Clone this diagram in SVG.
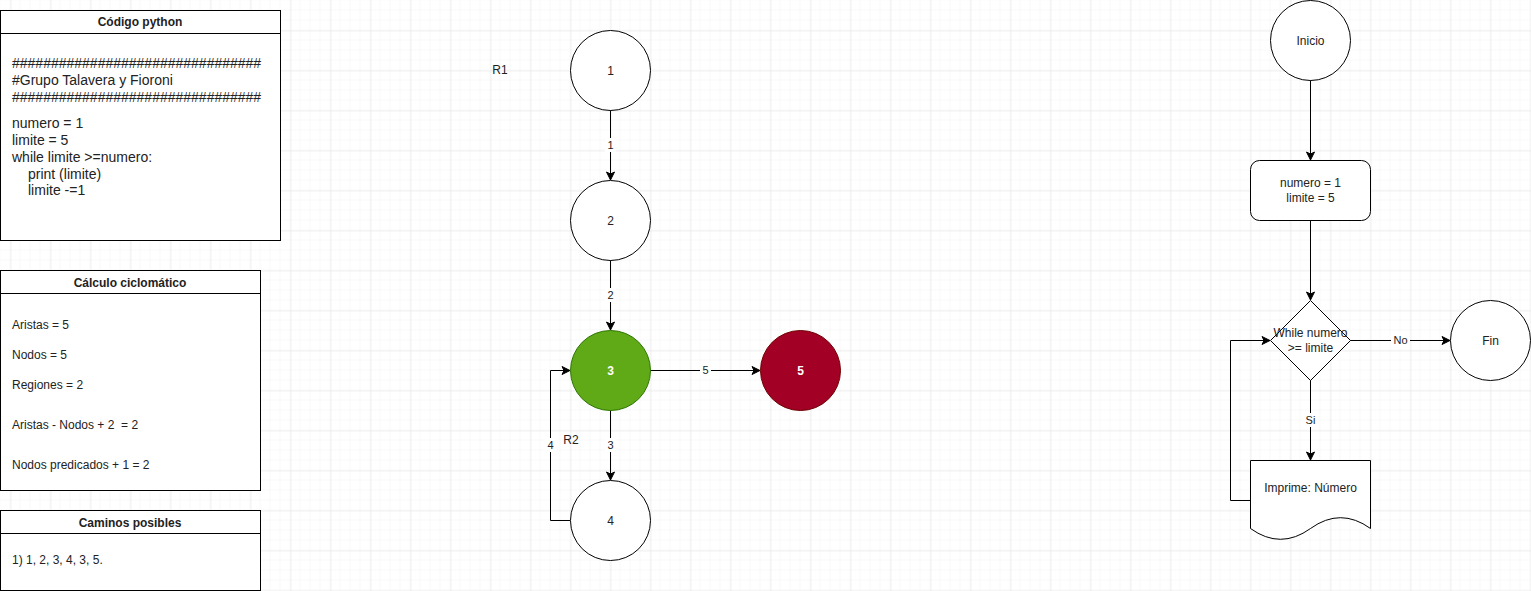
<svg xmlns="http://www.w3.org/2000/svg" width="1531" height="591" viewBox="0 0 1531 591">
<defs>
<pattern id="minor" x="0" y="0" width="10" height="10" patternUnits="userSpaceOnUse">
<path d="M10,0 V10 M0,10 H10" fill="none" stroke="#f3f3f3" stroke-width="1"/>
</pattern>
<pattern id="major" x="10.5" y="30.5" width="40" height="40" patternUnits="userSpaceOnUse">
<path d="M0,0 V40 M0,0 H40" fill="none" stroke="#e2e2e2" stroke-width="1"/>
</pattern>
<marker id="arr" viewBox="0 0 10 10" refX="9" refY="5" markerWidth="10" markerHeight="10" markerUnits="userSpaceOnUse" orient="auto">
<path d="M1,1 L9,5 L1,9 L3,5 z" fill="#000" stroke="#000" stroke-width="1"/>
</marker>
<style>
text{font-family:"Liberation Sans",Arial,sans-serif;fill:#222}
.t11{font-size:11px}
.t12{font-size:12px}
.t14{font-size:14px}
.hdr{font-size:12px;font-weight:bold;text-anchor:middle}
.c{text-anchor:middle}
.box{fill:#fff;stroke:#000;stroke-width:1}
.node{fill:#fff;stroke:#000;stroke-width:1}
.edge{fill:none;stroke:#000;stroke-width:1;marker-end:url(#arr)}
.line{fill:none;stroke:#000;stroke-width:1}
.lbl{fill:#fff;stroke:none}
.wt{fill:#fff;font-weight:bold}
.pre{white-space:pre}
</style>
</defs>
<rect width="1531" height="591" fill="#fff"/>
<rect width="1531" height="591" fill="url(#minor)" transform="translate(0.5,0.5)"/>
<rect width="1531" height="591" fill="url(#major)"/>

<g id="codigo">
<rect class="box" x="0.5" y="10.5" width="280" height="230"/>
<line class="line" x1="0.5" y1="33.5" x2="280.5" y2="33.5"/>
<text class="hdr" x="140" y="26">Código python</text>
<text class="t14" x="12" y="68">################################</text>
<text class="t14" x="12" y="85">#Grupo Talavera y Fioroni</text>
<text class="t14" x="12" y="102">################################</text>
<text class="t14" x="12" y="128">numero = 1</text>
<text class="t14" x="12" y="145">limite = 5</text>
<text class="t14" x="12" y="162">while limite &gt;=numero:</text>
<text class="t14" x="28" y="179">print (limite)</text>
<text class="t14" x="28" y="195">limite -=1</text>
</g>

<g id="calculo">
<rect class="box" x="0.5" y="270.5" width="260" height="220"/>
<line class="line" x1="0.5" y1="293.5" x2="260.5" y2="293.5"/>
<text class="hdr" x="130" y="287">Cálculo ciclomático</text>
<text class="t12" x="12" y="329">Aristas = 5</text>
<text class="t12" x="12" y="359">Nodos = 5</text>
<text class="t12" x="12" y="389">Regiones = 2</text>
<text class="t12 pre" x="12" y="429" xml:space="preserve">Aristas - Nodos + 2  = 2</text>
<text class="t12" x="12" y="469">Nodos predicados + 1 = 2</text>
</g>

<g id="caminos">
<rect class="box" x="0.5" y="510.5" width="260" height="80"/>
<line class="line" x1="0.5" y1="533.5" x2="260.5" y2="533.5"/>
<text class="hdr" x="130" y="527">Caminos posibles</text>
<text class="t12" x="12" y="564">1) 1, 2, 3, 4, 3, 5.</text>
</g>

<g id="connectors">
<line class="edge" x1="610.5" y1="110" x2="610.5" y2="180"/>
<line class="edge" x1="610.5" y1="260" x2="610.5" y2="330"/>
<line class="edge" x1="610.5" y1="410" x2="610.5" y2="480"/>
<line class="edge" x1="650" y1="370.5" x2="760" y2="370.5"/>
<polyline class="edge" points="570,520.5 550.5,520.5 550.5,370.5 570,370.5"/>
<line class="edge" x1="1310.5" y1="80" x2="1310.5" y2="160"/>
<line class="edge" x1="1310.5" y1="220" x2="1310.5" y2="300"/>
<line class="edge" x1="1350" y1="340.5" x2="1450" y2="340.5"/>
<line class="edge" x1="1310.5" y1="380" x2="1310.5" y2="460"/>
<polyline class="edge" points="1250,500.5 1230.5,500.5 1230.5,340.5 1270,340.5"/>
<rect class="lbl" x="605" y="138" width="11" height="14"/>
<text class="t11 c" x="610.5" y="149">1</text>
<rect class="lbl" x="605" y="288" width="11" height="14"/>
<text class="t11 c" x="610.5" y="299">2</text>
<rect class="lbl" x="605" y="438" width="11" height="14"/>
<text class="t11 c" x="610.5" y="449">3</text>
<rect class="lbl" x="700" y="363" width="11" height="14"/>
<text class="t11 c" x="705.5" y="374">5</text>
<rect class="lbl" x="545" y="438" width="11" height="14"/>
<text class="t11 c" x="550.5" y="449">4</text>
<rect class="lbl" x="1391" y="333" width="19" height="14"/>
<text class="t11 c" x="1400.5" y="344">No</text>
<rect class="lbl" x="1304" y="413" width="13" height="14"/>
<text class="t11 c" x="1310.5" y="424">Si</text>
</g>

<g id="R1"><text class="t12 c" x="500" y="74">R1</text></g>
<g id="R2"><text class="t12 c" x="571" y="444">R2</text></g>

<g id="n1"><circle class="node" cx="610.5" cy="70.5" r="40"/><text class="t12 c" x="610.5" y="74.5">1</text></g>
<g id="n2"><circle class="node" cx="610.5" cy="220.5" r="40"/><text class="t12 c" x="610.5" y="224.5">2</text></g>
<g id="n3"><circle cx="610.5" cy="370.5" r="40" fill="#60a917" stroke="#2d7600"/><text class="t12 c wt" x="610.5" y="374.5">3</text></g>
<g id="n4"><circle class="node" cx="610.5" cy="520.5" r="40"/><text class="t12 c" x="610.5" y="524.5">4</text></g>
<g id="n5"><circle cx="800.5" cy="370.5" r="40" fill="#a20025" stroke="#6f0000"/><text class="t12 c wt" x="800.5" y="374.5">5</text></g>

<g id="inicio"><circle class="node" cx="1310.5" cy="40.5" r="40"/><text class="t12 c" x="1310.5" y="44.5">Inicio</text></g>
<g id="init"><rect class="node" x="1250.5" y="160.5" width="120" height="60" rx="9" ry="9"/><text class="t12 c" x="1310.5" y="187">numero = 1</text><text class="t12 c" x="1310.5" y="202">limite = 5</text></g>
<g id="while"><polygon class="node" points="1310.5,300.5 1350.5,340.5 1310.5,380.5 1270.5,340.5"/><text class="t12 c" x="1310.5" y="337">While numero</text><text class="t12 c" x="1310.5" y="352">&gt;= limite</text></g>
<g id="fin"><circle class="node" cx="1490.5" cy="340.5" r="40"/><text class="t12 c" x="1490.5" y="344.5">Fin</text></g>
<g id="imprime"><path class="node" d="M1250.5,460.5 H1370.5 V528.5 Q1340.5,506.9 1310.5,528.5 Q1280.5,550.1 1250.5,528.5 Z"/><text class="t12 c" x="1310.5" y="492">Imprime: Número</text></g>
</svg>
